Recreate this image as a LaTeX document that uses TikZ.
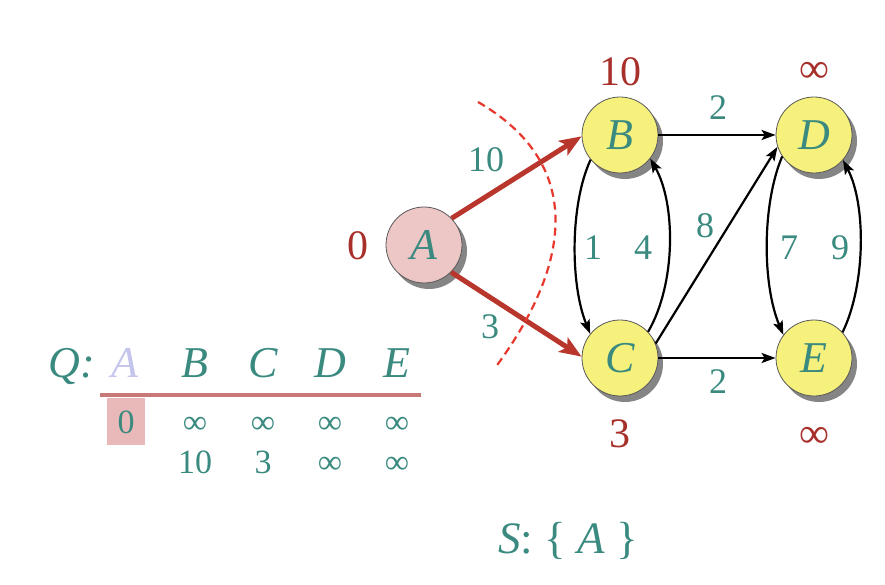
\documentclass[tikz,border=0pt]{standalone}
\usepackage{fontspec}
\setmainfont{Liberation Serif}
\usetikzlibrary{arrows.meta,shadows}
\definecolor{teal}{HTML}{3A8A80}
\definecolor{dred}{HTML}{A8302A}
\definecolor{ared}{HTML}{B8362C}
\definecolor{cutred}{HTML}{E8382E}
\definecolor{nodey}{HTML}{F6F07C}
\definecolor{nodep}{HTML}{EDC6C6}
\definecolor{qline}{HTML}{C97878}
\definecolor{qbox}{HTML}{E9B8B8}
\definecolor{alav}{HTML}{C4C4EC}
\tikzset{
  vert/.style={circle, minimum size=76pt, inner sep=0pt, draw=black!65, line width=0.8pt,
    fill=nodey, text=teal, font=\fontsize{44}{48}\selectfont\itshape,
    drop shadow={shadow xshift=5pt, shadow yshift=-6pt, fill=black!60, opacity=0.8}},
  wlab/.style={text=teal, font=\fontsize{36}{40}\selectfont},
  dlab/.style={text=dred, font=\fontsize{42}{46}\selectfont},
  redarr/.style={draw=ared, line width=5pt, -{Stealth[length=22pt,width=17pt,inset=5pt]}},
  blkarr/.style={draw=black, line width=2.2pt, -{Stealth[length=14pt,width=10pt,inset=3pt]}},
  hdr/.style={text=teal, anchor=base, font=\fontsize{44}{48}\selectfont\itshape},
  tnum/.style={text=teal, anchor=base, font=\fontsize{34}{38}\selectfont},
}
\begin{document}
\begin{tikzpicture}[x=1pt,y=1pt]
\useasboundingbox (0,0) rectangle (885,584);
% nodes
\node[vert, fill=nodep] (A) at (424,339) {A};
\node[vert] (B) at (620,449) {B};
\node[vert] (D) at (814,449) {D};
\node[vert] (C) at (620,226) {C};
\node[vert] (E) at (814,226) {E};
% distance labels
\node[dlab] (lA) at (358,338) {0};
\node[dlab] (lB) at (620,512) {10};
\node[dlab] (lD) at (814,512) {∞};
\node[dlab] (lC) at (620,150) {3};
\node[dlab] (lE) at (814,147) {∞};
% edges
\draw[redarr] (A.44) -- (B.182);
\draw[redarr] (A.-45) -- (C.178);
\draw[blkarr] (B.east) -- (D.west);
\draw[blkarr] (C.east) -- (E.west);
\draw[blkarr] (C.22) -- (D.198);
\draw[blkarr] (B.220) .. controls (570,380) and (570,300) .. (C.141);
\draw[blkarr] (C.43) .. controls (676,300) and (676,380) .. (B.322);
\draw[blkarr] (D.214) .. controls (762,380) and (762,300) .. (E.143);
\draw[blkarr] (E.42) .. controls (866,300) and (866,380) .. (D.319);
% weights
\node[wlab] (w1) at (486,424) {10};
\node[wlab] (w2) at (490,257) {3};
\node[wlab] (w3) at (718,476) {2};
\node[wlab] (w4) at (718,202) {2};
\node[wlab] (w5) at (593,336) {1};
\node[wlab] (w6) at (643,336) {4};
\node[wlab] (w7) at (705,358) {8};
\node[wlab] (w8) at (789,336) {7};
\node[wlab] (w9) at (840,336) {9};
% dashed cut
\draw[cutred, line width=2.2pt, dash pattern=on 8pt off 5pt]
  (478,482) .. controls (585,420) and (572,320) .. (495,216);
% table
\fill[qbox] (107,139) rectangle (145,186);
\draw[qline, line width=4pt] (100,189) -- (421,189);
\node[hdr] (Q) at (72,207) {Q:};
\node[hdr, text=alav] (hA) at (125,207) {A};
\node[hdr] (hB) at (195,207) {B};
\node[hdr] (hC) at (263,207) {C};
\node[hdr] (hD) at (330,207) {D};
\node[hdr] (hE) at (397,207) {E};
\node[tnum] (r1a) at (126,151) {0};
\node[tnum] (r1b) at (195,151) {∞};
\node[tnum] (r1c) at (263,151) {∞};
\node[tnum] (r1d) at (330,151) {∞};
\node[tnum] (r1e) at (397,151) {∞};
\node[tnum] (r2b) at (195,111) {10};
\node[tnum] (r2c) at (263,111) {3};
\node[tnum] (r2d) at (330,111) {∞};
\node[tnum] (r2e) at (397,111) {∞};
% S set
\node[text=teal, anchor=base, font=\fontsize{45}{50}\selectfont] (S) at (568,31) {\textit{S}: \{ \textit{A} \}};
\end{tikzpicture}
\end{document}
